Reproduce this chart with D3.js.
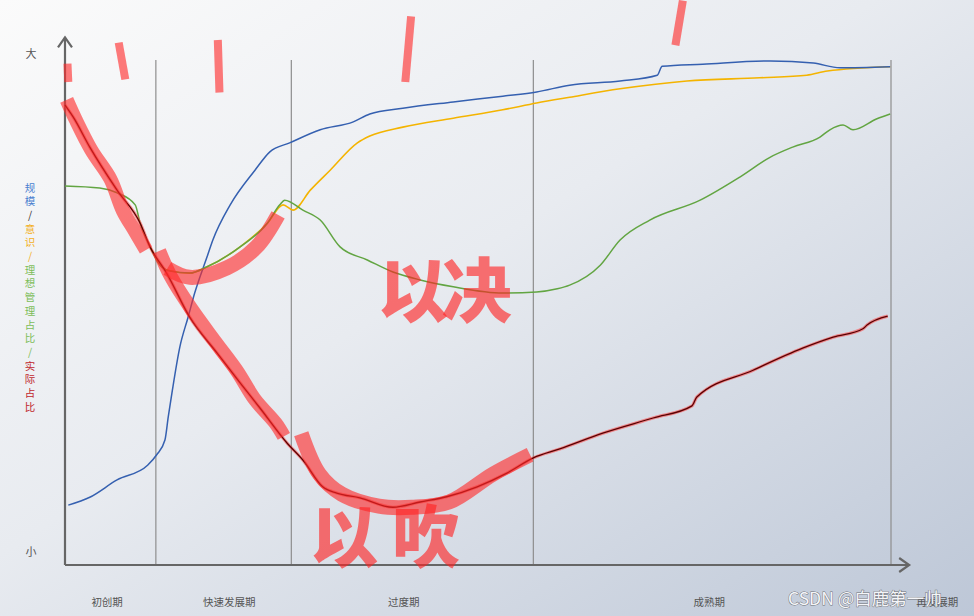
<!DOCTYPE html>
<html><head><meta charset="utf-8">
<script src="https://cdn.jsdelivr.net/npm/d3@7/dist/d3.min.js"></script>
<style>html,body{margin:0;padding:0;overflow:hidden;}svg{display:block;}</style>
</head><body>
<svg id="c" width="974" height="616"></svg>
<script>
// ---- data (x: time 0..100, y: level 0..100) ----
const phases = ["初创期", "快速发展期", "过度期", "成熟期", "再发展期"];
const phaseLabelAt = [5.1, 19.9, 41.0, 78.0, 105.6];
const phaseDividers = [11.0, 27.4, 56.7, 100];

const scaleSeries = [[0.4,11.4],[3.0,12.9],[6.3,16.2],[10.0,19.0],[11.1,21.0],[12.1,23.8],[12.5,28.2],[13.0,33.3],[13.9,41.5],[14.9,47.2],[15.7,51.8],[17.2,58.7],[17.9,61.9],[20.0,68.6],[23.0,75.2],[24.8,78.7],[27.2,80.4],[30.9,82.9],[34.9,84.4],[36.9,85.9],[40.9,87.0],[47.0,88.2],[53.0,89.3],[57.1,90.1],[61.1,91.4],[67.2,92.2],[71.7,93.3],[72.3,95.0],[77.2,95.4],[85.4,96.0],[90.6,95.6],[93.8,94.7],[99.9,94.9]];
const awareSeries = [[10.3,60.6],[12.3,56.2],[15.1,55.6],[17.2,56.8],[21.2,60.6],[24.5,65.1],[26.4,68.6],[27.6,67.6],[29.7,71.4],[32.1,75.2],[35.4,80.4],[36.9,81.7],[40.9,83.4],[47.0,85.1],[53.0,86.7],[57.1,88.0],[61.1,89.1],[67.2,90.7],[75.3,92.2],[84.1,92.8],[89.8,93.3],[92.3,94.1],[99.9,94.9]];
const idealSeries = [[0,72.2],[4.2,71.8],[6.3,70.9],[8.5,68.6],[9.1,65.1],[10.3,60.6],[11.5,57.1],[12.7,56.0],[15.1,55.6],[17.2,56.8],[21.2,60.6],[24.5,65.1],[26.0,68.6],[26.6,69.5],[28.8,67.6],[30.9,65.7],[33.3,60.6],[36.6,58.1],[39.7,55.8],[43.0,54.3],[47.0,53.0],[53.0,51.8],[57.1,52.0],[59.6,52.6],[61.1,53.3],[64.8,57.1],[67.2,61.9],[70.8,65.7],[76.9,69.5],[81.7,73.9],[85.4,77.7],[88.1,79.6],[91.4,81.5],[92.6,82.9],[94.2,83.8],[95.4,82.9],[98.3,85.0],[99.9,85.9]];
const actualSeries = [[0,87.6],[1.0,85.3],[3.0,79.6],[6.3,71.4],[9.1,65.1],[10.3,60.6],[12.3,55.6],[15.1,47.2],[18.4,40.4],[21.2,34.7],[23.6,29.9],[26.9,23.2],[28.8,20.0],[31.2,14.9],[32.9,13.7],[35.7,12.8],[39.7,11.0],[43.0,12.0],[46.2,13.0],[49.9,14.9],[53.5,17.5],[56.7,20.4],[59.9,22.1],[65.1,25.1],[71.2,28.0],[75.9,30.3],[76.5,32.0],[83.3,37.1],[89.3,41.3],[93.0,43.4],[96.6,45.0],[97.1,45.7],[99.6,47.4]];

// hand-drawn red annotation strokes (same units)
const markA = [[0.2,88.6],[1.3,84.8],[3.2,79.0],[5.5,73.5],[7.0,67.5],[8.5,63.5],[9.8,60.0]];
const markB = [[11.4,59.8],[12.8,55.0],[15.2,49.0],[18.2,42.5],[20.8,37.0],[23.0,31.5],[25.5,27.0],[26.5,24.5]];
const markC = [[12.4,56.5],[15.1,54.8],[19.6,56.6],[23.2,60.6],[25.8,66.7]];
const markD = [[28.6,25.0],[30.8,17.3],[33.5,13.5],[38.0,11.2],[42.0,11.0],[46.5,12.0],[51.8,17.3],[56.3,21.0]];
const ticksTop = [[[0.3,95.5],[0.4,92.0]],[[6.5,99.5],[7.3,92.5]],[[18.5,100.0],[18.7,90.0]],[[41.9,104.5],[41.2,92.0]],[[74.8,107.5],[73.9,99.0]]];
const note1 = "以决";
const note2 = "以吹";

const legendParts = [
  {t:"规", c:"#4a7fd0"},{t:"模", c:"#4a7fd0"},{t:"/", c:"#333"},
  {t:"意", c:"#f2b01e"},{t:"识", c:"#f2b01e"},{t:"/", c:"#f2b01e"},
  {t:"理", c:"#7dbd5a"},{t:"想", c:"#7dbd5a"},{t:"管", c:"#7dbd5a"},{t:"理", c:"#7dbd5a"},{t:"占", c:"#7dbd5a"},{t:"比", c:"#7dbd5a"},{t:"/", c:"#7dbd5a"},
  {t:"实", c:"#c0282d"},{t:"际", c:"#c0282d"},{t:"占", c:"#c0282d"},{t:"比", c:"#c0282d"}
];

// ---- drawing ----
const svg = d3.select("#c");
const W = 974, H = 616;
const defs = svg.append("defs");
const g1 = defs.append("linearGradient").attr("id","bg").attr("x1","0").attr("y1","0").attr("x2","1").attr("y2","1");
g1.append("stop").attr("offset","0%").attr("stop-color","#fbfbfb");
g1.append("stop").attr("offset","45%").attr("stop-color","#e8ebf0");
g1.append("stop").attr("offset","100%").attr("stop-color","#bdc7d7");
svg.append("rect").attr("width",W).attr("height",H).attr("fill","url(#bg)");

const x = d3.scaleLinear().domain([0,100]).range([65,891]);
const y = d3.scaleLinear().domain([0,100]).range([565,40]);
const line = d3.line().x(d=>x(d[0])).y(d=>y(d[1])).curve(d3.curveMonotoneX);
const straight = d3.line().x(d=>x(d[0])).y(d=>y(d[1]));
const smooth = d3.line().x(d=>x(d[0])).y(d=>y(d[1])).curve(d3.curveCatmullRom);

// phase dividers
svg.selectAll(".div").data(phaseDividers).enter().append("line")
  .attr("x1",d=>x(d)).attr("x2",d=>x(d)).attr("y1",y(96.2)).attr("y2",y(0))
  .attr("stroke","#8e8e8e").attr("stroke-width",1.2);

// axes
const ax = svg.append("g").attr("stroke","#666").attr("stroke-width",2.2).attr("fill","none");
ax.append("line").attr("x1",x(0)).attr("x2",x(0)).attr("y1",y(0)).attr("y2",y(100.5));
ax.append("path").attr("d",`M${x(0)-7},${y(100.5)+10}L${x(0)},${y(100.5)}L${x(0)+7},${y(100.5)+10}`);
ax.append("line").attr("x1",x(0)).attr("x2",x(102.2)).attr("y1",y(0)).attr("y2",y(0));
ax.append("path").attr("d",`M${x(102.2)-10},${y(0)-7}L${x(102.2)},${y(0)}L${x(102.2)-10},${y(0)+7}`);

// axis end labels
svg.append("text").attr("x",31).attr("y",y(97.6)).attr("text-anchor","middle").attr("dominant-baseline","central")
  .attr("font-family","Noto Sans CJK SC").attr("font-size",11).attr("fill","#555").text("大");
svg.append("text").attr("x",31).attr("y",y(2.7)).attr("text-anchor","middle").attr("dominant-baseline","central")
  .attr("font-family","Noto Sans CJK SC").attr("font-size",11).attr("fill","#555").text("小");

// phase labels
svg.selectAll(".ph").data(phases).enter().append("text")
  .attr("x",(d,i)=>x(phaseLabelAt[i]))
  .attr("y",601).attr("text-anchor","middle").attr("dominant-baseline","central")
  .attr("font-family","Noto Sans CJK SC").attr("font-size",10.5).attr("fill","#555").text(d=>d);

// vertical legend
svg.selectAll(".lg").data(legendParts).enter().append("text")
  .attr("x",30).attr("y",(d,i)=>187 + i*13.7).attr("text-anchor","middle").attr("dominant-baseline","central")
  .attr("font-family","Noto Sans CJK SC").attr("font-size",10.5).attr("fill",d=>d.c).text(d=>d.t);

// series lines
svg.append("path").attr("d",line(awareSeries)).attr("fill","none").attr("stroke","#f4b400").attr("stroke-width",1.6);
svg.append("path").attr("d",line(scaleSeries)).attr("fill","none").attr("stroke","#3560b0").attr("stroke-width",1.5);
svg.append("path").attr("d",line(idealSeries)).attr("fill","none").attr("stroke","#62a542").attr("stroke-width",1.5);
svg.append("path").attr("d",line(actualSeries)).attr("fill","none").attr("stroke","#ff4040").attr("stroke-width",3.2).attr("stroke-opacity",0.55);
svg.append("path").attr("d",line(actualSeries)).attr("fill","none").attr("stroke","#5a0000").attr("stroke-width",1.3);

// annotations
const ann = svg.append("g").attr("fill","none").attr("stroke","#ff2a2a").attr("stroke-opacity",0.62)
  .attr("stroke-linecap","butt").attr("stroke-linejoin","round");
[markA, markB].forEach(m=>ann.append("path").attr("d",smooth(m)).attr("stroke-width",14));
ann.append("path").attr("d",smooth(markC)).attr("stroke-width",15);
ann.append("path").attr("d",smooth(markD)).attr("stroke-width",15);
ticksTop.forEach(t=>ann.append("path").attr("d",straight(t)).attr("stroke-width",8));

svg.append("text").attr("x",x(45.6)).attr("y",y(53.0)).attr("text-anchor","middle").attr("dominant-baseline","central")
  .attr("font-family","Noto Sans CJK SC").attr("font-weight",900).attr("font-size",70).attr("letter-spacing",-6)
  .attr("fill","#ff2020").attr("fill-opacity",0.62).text(note1);
svg.append("text").attr("x",x(39.6)).attr("y",y(6.2)).attr("text-anchor","middle").attr("dominant-baseline","central")
  .attr("font-family","Noto Sans CJK SC").attr("font-weight",900).attr("font-size",68).attr("letter-spacing",14)
  .attr("fill","#ff2020").attr("fill-opacity",0.62).text(note2);

// watermark
svg.append("text").attr("x",788).attr("y",597).attr("dominant-baseline","central")
  .attr("font-family","Noto Sans CJK SC").attr("font-size",17.5)
  .attr("fill","#f4f5f8").attr("stroke","#6d6f74").attr("stroke-width",0.9).attr("paint-order","stroke")
  .text("CSDN @白鹿第一帅");
</script>
</body></html>
